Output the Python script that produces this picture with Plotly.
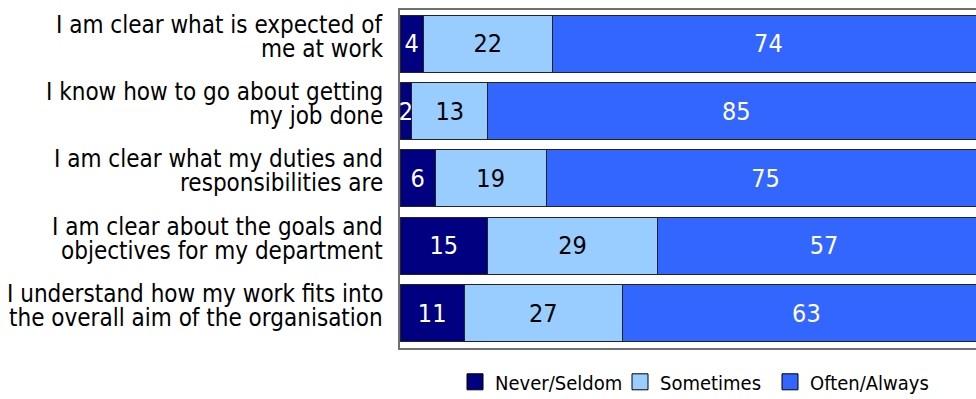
import plotly.graph_objects as go

# Survey statements (two display lines each) and response shares (%)
statements = [
    ["I am clear what is expected of", "me at work"],
    ["I know how to go about getting", "my job done"],
    ["I am clear what my duties and", "responsibilities are"],
    ["I am clear about the goals and", "objectives for my department"],
    ["I understand how my work fits into", "the overall aim of the organisation"],
]
never_seldom = [4, 2, 6, 15, 11]
sometimes = [22, 13, 19, 29, 27]
often_always = [74, 85, 75, 57, 63]

series_names = ["Never/Seldom", "Sometimes", "Often/Always"]
series_colors = ["#000080", "#99CCFF", "#3366FF"]
text_colors = ["white", "black", "white"]
legend_widths = [120, 105, 130]

FONT = "DejaVu Sans Condensed, sans-serif"
cats = [s[0] for s in statements]

fig = go.Figure()
for name, vals, color, tcol, lw in zip(series_names,
                                       [never_seldom, sometimes, often_always],
                                       series_colors, text_colors, legend_widths):
    fig.add_trace(go.Bar(
        y=cats, x=vals, orientation="h", name=name,
        marker=dict(color=color, line=dict(color="#222222", width=1)),
        text=[str(v) for v in vals], textposition="inside",
        insidetextanchor="middle", textangle=0,
        textfont=dict(family=FONT, size=25, color=tcol),
        showlegend=False, hoverinfo="skip",
    ))
    # legend entry with a larger square swatch
    fig.add_trace(go.Scatter(
        x=[None], y=[None], mode="markers", name=name, legendwidth=lw,
        marker=dict(symbol="square", size=16, color=color,
                    line=dict(color="black", width=1)),
    ))

# two-line category labels with tight line spacing
for s in statements:
    for i, line in enumerate(s):
        fig.add_annotation(
            x=0, xref="paper", y=s[0], yref="y", text=line,
            showarrow=False, xanchor="right", yanchor="middle",
            xshift=-15, yshift=19 - 24 * i,
            font=dict(family=FONT, size=24, color="black"),
        )

fig.update_layout(
    width=976, height=399,
    margin=dict(l=400, r=0, t=10, b=51, autoexpand=False),
    barmode="stack", bargap=0.157,
    plot_bgcolor="white", paper_bgcolor="white",
    uniformtext=dict(minsize=25, mode="show"),
    font=dict(family=FONT, size=20, color="black"),
    legend=dict(orientation="h", traceorder="normal",
                x=0.0955, xanchor="left", y=-0.1, yanchor="middle",
                bgcolor="rgba(0,0,0,0)", font=dict(family=FONT, size=20),
                itemwidth=30, tracegroupgap=0),
    xaxis=dict(range=[0, 98.5], showticklabels=False, showgrid=False,
               zeroline=False, ticks="", showline=True, mirror=True,
               linecolor="#707070", linewidth=2),
    yaxis=dict(categoryorder="array", categoryarray=cats, autorange="reversed",
               showticklabels=False, showgrid=False, ticks="",
               showline=True, mirror=False, linecolor="#707070", linewidth=2),
)

fig.write_html("out.html")
